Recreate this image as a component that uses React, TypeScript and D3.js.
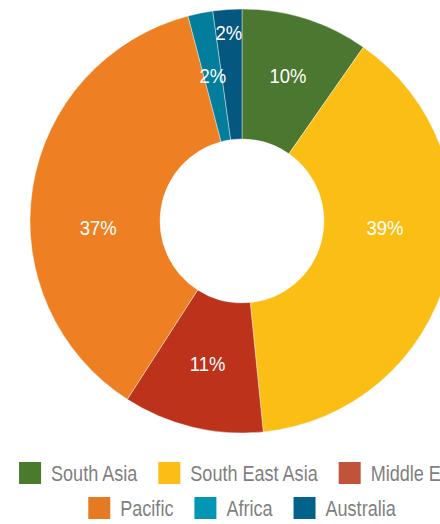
import React, { useEffect, useRef } from "react";
import * as d3 from "d3";

const categories = ["South Asia", "South East Asia", "Middle East", "Pacific", "Africa", "Australia"];
const values = [9.7, 38.7, 10.7, 36.8, 1.9, 2.2];
const labels = ["10%", "39%", "11%", "37%", "2%", "2%"];
const sliceColors = ["#4b7730", "#fbbe14", "#bc321a", "#ee8023", "#027d9c", "#04577e"];
const legendColors = ["#4a7a2c", "#fcbd14", "#c0533a", "#e57a22", "#0096b4", "#03628b"];

const W = 440;
const H = 524;
const CX = 242;
const CY = 221;
const R_OUT = 212;
const R_IN = 82;
const FONT = "'Liberation Sans', Arial, Helvetica, sans-serif";
const NARROW_LEGEND = 0.82;
const NARROW_LABEL = 0.88;

// label placement (radius, optional angle in degrees from 12 o'clock)
const labelLayout: { r: number; angle?: number }[] = [
  { r: 153 },
  { r: 143, angle: 92.4 },
  { r: 147 },
  { r: 144, angle: 267.6 },
  { r: 148 },
  { r: 189 },
];

function condense(sel: d3.Selection<SVGTextElement, any, any, any>, k: number) {
  sel.each(function () {
    const node = this as SVGTextElement;
    const w = node.getComputedTextLength();
    d3.select(node).attr("textLength", w * k).attr("lengthAdjust", "spacingAndGlyphs");
  });
}

export default function App() {
  const ref = useRef<SVGSVGElement>(null);

  useEffect(() => {
    const svg = d3.select(ref.current);
    svg.selectAll("*").remove();

    const pie = d3.pie<number>().sort(null).value((d) => d)(values);
    const arc = d3.arc<d3.PieArcDatum<number>>().innerRadius(R_IN).outerRadius(R_OUT);

    const g = svg.append("g").attr("transform", `translate(${CX},${CY})`);
    g.selectAll("path.slice")
      .data(pie)
      .join("path")
      .attr("class", "slice")
      .attr("d", arc)
      .attr("fill", (_, i) => sliceColors[i])
      .attr("stroke", "#ffffff")
      .attr("stroke-width", 0.4);

    const lbls = g
      .selectAll("text.lbl")
      .data(pie)
      .join("text")
      .attr("class", "lbl")
      .attr("x", (d, i) => {
        const L = labelLayout[i];
        const a = L.angle !== undefined ? (L.angle * Math.PI) / 180 : (d.startAngle + d.endAngle) / 2;
        return Math.sin(a) * L.r;
      })
      .attr("y", (d, i) => {
        const L = labelLayout[i];
        const a = L.angle !== undefined ? (L.angle * Math.PI) / 180 : (d.startAngle + d.endAngle) / 2;
        return -Math.cos(a) * L.r;
      })
      .attr("dy", "0.36em")
      .attr("text-anchor", "middle")
      .attr("font-family", FONT)
      .attr("font-size", 21)
      .attr("fill", "#ffffff")
      .text((_, i) => labels[i]);
    condense(lbls as any, NARROW_LABEL);

    // legend
    const sq = 22;
    const gapText = 10;
    const gapItem = 21;
    const rowH = 35;
    const maxRow = 470;
    const legend = svg.append("g");
    const items = categories.map((c, i) => {
      const it = legend.append("g");
      it.append("rect").attr("width", sq).attr("height", sq).attr("fill", legendColors[i]);
      const t = it
        .append("text")
        .attr("x", sq + gapText)
        .attr("y", sq / 2)
        .attr("dy", "0.36em")
        .attr("font-family", FONT)
        .attr("font-size", 22)
        .attr("fill", "#7f7f7f")
        .text(c);
      const tw = (t.node() as SVGTextElement).getComputedTextLength() * NARROW_LEGEND;
      t.attr("textLength", tw).attr("lengthAdjust", "spacingAndGlyphs");
      return { it, w: sq + gapText + tw };
    });
    const rows: { it: any; w: number }[][] = [[]];
    let cur = 0;
    items.forEach((item) => {
      const add = (rows[rows.length - 1].length ? gapItem : 0) + item.w;
      if (cur + add > maxRow && rows[rows.length - 1].length) {
        rows.push([item]);
        cur = item.w;
      } else {
        rows[rows.length - 1].push(item);
        cur += add;
      }
    });
    rows.forEach((row, ri) => {
      const total = row.reduce((s, r) => s + r.w, 0) + gapItem * (row.length - 1);
      let x = CX - total / 2;
      const y = 462 + ri * rowH;
      row.forEach((r) => {
        r.it.attr("transform", `translate(${x},${y})`);
        x += r.w + gapItem;
      });
    });
  }, []);

  return (
    <svg
      ref={ref}
      width={W}
      height={H}
      style={{ position: "absolute", left: 0, top: 0, display: "block", background: "#ffffff" }}
    />
  );
}
